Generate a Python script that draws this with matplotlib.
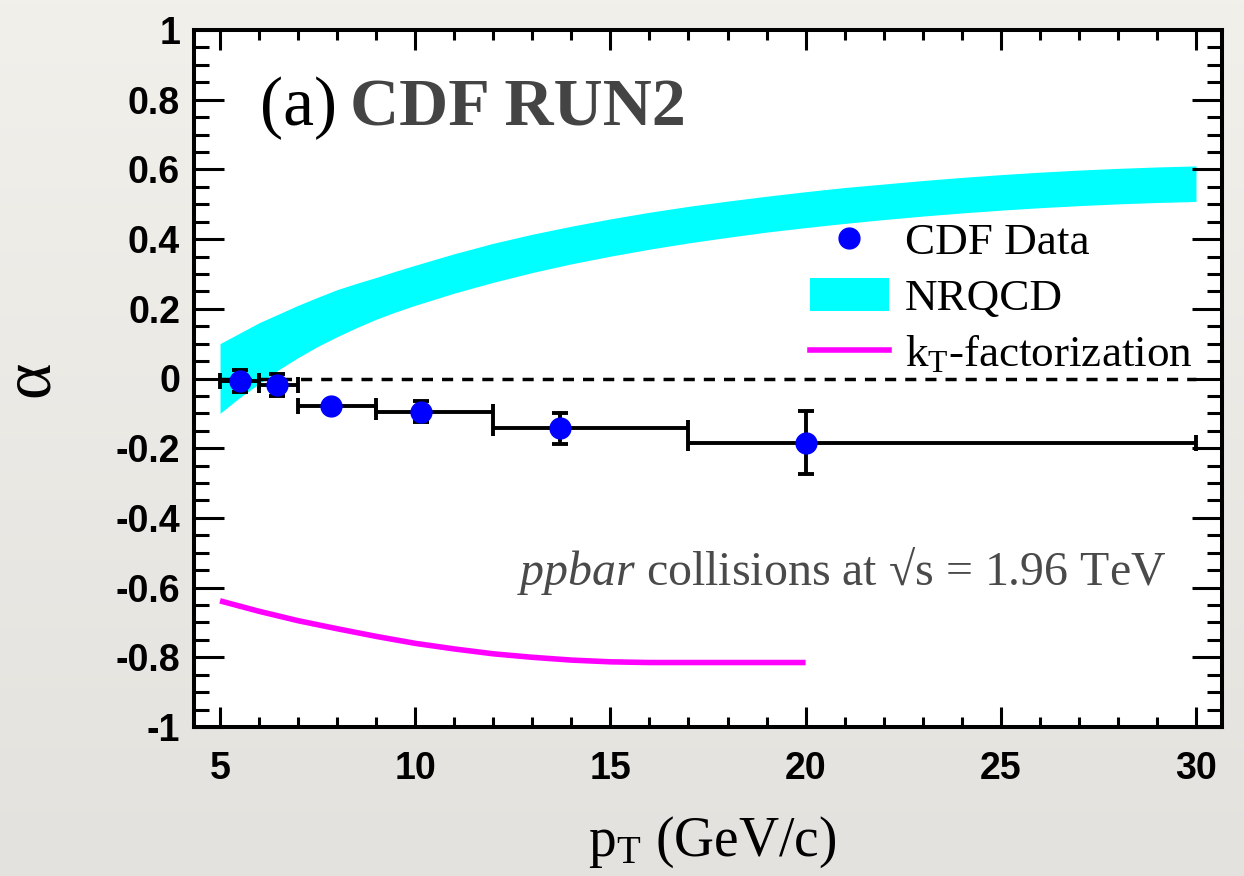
import numpy as np
import matplotlib
matplotlib.use("Agg")
import matplotlib.pyplot as plt
from matplotlib.lines import Line2D
from matplotlib.patches import Patch
from matplotlib.ticker import MultipleLocator, FixedLocator

plt.rcParams['mathtext.fontset'] = 'custom'
plt.rcParams['mathtext.rm'] = 'Liberation Serif'
plt.rcParams['mathtext.it'] = 'Liberation Serif:italic'
plt.rcParams['mathtext.bf'] = 'Liberation Serif:bold'

# ---- data ----
pt = [5.5, 6.46, 7.84, 10.14, 13.72, 20.0]
alpha = [-0.007, -0.018, -0.079, -0.095, -0.143, -0.186]
pt_lo = [5.0, 6.0, 7.0, 9.0, 12.0, 17.0]
pt_hi = [6.0, 7.0, 9.0, 12.0, 17.0, 30.0]
alpha_err_up = [0.032, 0.031, 0.010, 0.031, 0.045, 0.092]
alpha_err_dn = [0.032, 0.031, 0.010, 0.031, 0.045, 0.087]

nrqcd_pt = [5, 5.5, 6, 6.5, 7, 7.5, 8, 8.5, 9, 9.5, 10, 11, 12, 13, 14, 15, 16, 17, 18, 19,
            20, 21, 22, 23, 24, 25, 26, 27, 28, 29, 30]
nrqcd_up = [0.10, 0.13, 0.16, 0.185, 0.21, 0.233, 0.255, 0.273, 0.29, 0.308, 0.325, 0.358,
            0.388, 0.414, 0.437, 0.458, 0.477, 0.494, 0.509, 0.523, 0.536, 0.548, 0.558,
            0.568, 0.577, 0.585, 0.592, 0.598, 0.603, 0.607, 0.61]
nrqcd_lo = [-0.10, -0.055, -0.015, 0.025, 0.06, 0.092, 0.12, 0.146, 0.17, 0.191, 0.21, 0.245,
            0.276, 0.304, 0.329, 0.351, 0.371, 0.389, 0.405, 0.42, 0.433, 0.445, 0.456,
            0.466, 0.475, 0.483, 0.49, 0.496, 0.501, 0.505, 0.508]

kt_pt = [5, 6, 7, 8, 9, 10, 11, 12, 13, 14, 15, 16, 17, 18, 19, 20]
kt_alpha = [-0.638, -0.668, -0.695, -0.718, -0.74, -0.76, -0.776, -0.79, -0.80, -0.808, -0.813,
            -0.815, -0.815, -0.815, -0.815, -0.815]

xticks = [5, 10, 15, 20, 25, 30]
yticks = [-1, -0.8, -0.6, -0.4, -0.2, 0, 0.2, 0.4, 0.6, 0.8, 1]
ytick_labels = ['-1', '-0.8', '-0.6', '-0.4', '-0.2', '0', '0.2', '0.4', '0.6', '0.8', '1']

W, H = 1244, 876
fig = plt.figure(figsize=(W / 100, H / 100), dpi=100)

# paper-like background
bg = fig.add_axes([0, 0, 1, 1], zorder=-10)
grad = np.linspace(0, 1, 256).reshape(-1, 1)
top_c = np.array([242, 240, 235]) / 255
bot_c = np.array([228, 226, 222]) / 255
img = top_c[None, None, :] * (1 - grad[:, :, None]) + bot_c[None, None, :] * grad[:, :, None]
bg.imshow(img, aspect='auto', extent=[0, 1, 0, 1])
bg.axis('off')

L, R, T, B = 194, 1222, 30, 727
ax = fig.add_axes([L / W, 1 - B / H, (R - L) / W, (B - T) / H])
ax.set_facecolor('white')

ax.set_xlim(5 - 2 / 3, 30 + 2 / 3)
ax.set_ylim(-1, 1)

# NRQCD band
ax.fill_between(nrqcd_pt, nrqcd_lo, nrqcd_up, color='#00FFFF', lw=0, zorder=1)
# kT line
ax.plot(kt_pt, kt_alpha, color='#FF00FF', lw=4, zorder=2, solid_capstyle='butt')
# zero line
ax.plot([5, 30], [0, 0], color='black', lw=2.5, ls=(0, (3.2, 2.6)), zorder=2)

# data
xerr = [np.array(pt) - np.array(pt_lo), np.array(pt_hi) - np.array(pt)]
yerr = [alpha_err_dn, alpha_err_up]
ax.errorbar(pt, alpha, xerr=xerr, yerr=yerr, fmt='none', ecolor='black',
            elinewidth=2.8, capsize=6, capthick=2.8, zorder=3)
ax.plot(pt, alpha, 'o', color='#0000FF', ms=15, mec='#0000FF', zorder=4)

# ticks
ax.xaxis.set_major_locator(FixedLocator(xticks))
ax.xaxis.set_minor_locator(MultipleLocator(1))
ax.yaxis.set_major_locator(FixedLocator(yticks))
ax.yaxis.set_minor_locator(MultipleLocator(0.05))
ax.set_yticklabels(ytick_labels)
ax.tick_params(which='both', direction='in', top=True, right=True, width=2.2, color='black')
ax.tick_params(axis='x', which='major', length=14.4, pad=17)
ax.tick_params(axis='x', which='minor', length=7.2)
ax.tick_params(axis='y', which='major', length=21.6, pad=10)
ax.tick_params(axis='y', which='minor', length=10.8)
for lab in ax.get_xticklabels() + ax.get_yticklabels():
    lab.set_fontfamily('Liberation Sans')
    lab.set_fontweight('bold')
    lab.set_fontsize(27)
for s in ax.spines.values():
    s.set_linewidth(2.9)

# labels
ax.set_xlabel('p$_\\mathrm{T}$ (GeV/c)', fontfamily='Liberation Serif', fontsize=40)
ax.xaxis.set_label_coords(0.504, -0.125)
ax.set_ylabel('α', fontfamily=['Liberation Serif', 'DejaVu Serif'], fontsize=50)
ax.yaxis.set_label_coords(-0.128, 0.5)

# title texts
ax.text((260 - L) / (R - L), (B - 125) / (B - T), '(a)', transform=ax.transAxes,
        fontfamily='Liberation Serif', fontsize=50, color='black', va='baseline', ha='left')
ax.text((350 - L) / (R - L), (B - 125) / (B - T), 'CDF RUN2', transform=ax.transAxes,
        fontfamily='Liberation Serif', fontweight='bold', fontsize=49, color='#444444',
        va='baseline', ha='left')

ax.text((1166 - L) / (R - L), (B - 585) / (B - T),
        '$\\mathit{ppbar}$ collisions at √s = 1.96 TeV', transform=ax.transAxes,
        fontfamily=['Liberation Serif', 'DejaVu Serif'], fontsize=34.5, color='#4a4a4a',
        va='baseline', ha='right')

# legend
handles = [
    Line2D([], [], marker='o', ls='none', color='#0000FF', ms=15),
    Patch(facecolor='#00FFFF', edgecolor='none'),
    Line2D([], [], color='#FF00FF', lw=4),
]
labels = ['CDF Data', 'NRQCD', 'k$_\\mathrm{T}$-factorization']
leg = ax.legend(handles, labels, loc='upper left',
                bbox_to_anchor=(810 / W, 1 - 222 / H), bbox_transform=fig.transFigure,
                frameon=False, borderpad=0, borderaxespad=0,
                handlelength=1.75, handleheight=0.75, handletextpad=0.35, labelspacing=0.32,
                prop={'family': 'Liberation Serif', 'size': 32.5})

fig.savefig('out.png', dpi=100)
